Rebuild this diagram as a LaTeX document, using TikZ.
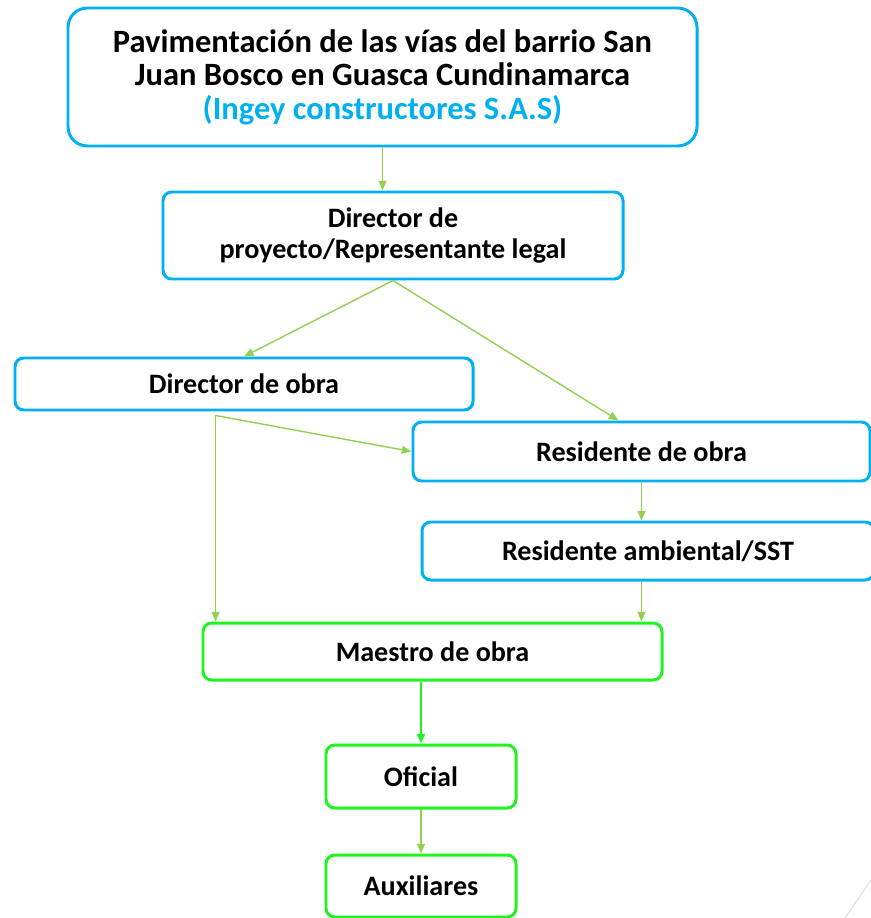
\documentclass[tikz,border=0pt]{standalone}
\usepackage{fontspec}
\setmainfont{Carlito}
\usepackage{xcolor}
\definecolor{boxcyan}{RGB}{0, 176, 240}
\definecolor{boxgreen}{RGB}{30, 245, 30}
\definecolor{linkgreen}{RGB}{146, 208, 80}
\usepackage{tikz}
\usetikzlibrary{
    arrows.meta,
    positioning,
    calc
}
\tikzstyle{titlebox} = [
    rectangle,
    rounded corners=11pt,
    draw=boxcyan,
    line width=1.7pt,
    align=center,
    font=\fontsize{18.5}{19}\selectfont\bfseries
]
\tikzstyle{rolebox} = [
    rectangle,
    rounded corners=5pt,
    draw=boxcyan,
    line width=1.7pt,
    align=center,
    font=\fontsize{16}{18}\selectfont\bfseries
]
\tikzstyle{crewbox} = [
    rectangle,
    rounded corners=5pt,
    draw=boxgreen,
    line width=1.7pt,
    align=center,
    font=\fontsize{16}{18}\selectfont\bfseries
]
\tikzstyle{arrow} = [
    -{Triangle[length=5.5pt,width=4.5pt]},
    draw=linkgreen,
    line width=0.8pt
]

\begin{document}
\begin{tikzpicture}
    \useasboundingbox (0,0) rectangle (17.42,-18.36);

    % Project title
    \node[titlebox, minimum width=12.58cm, minimum height=2.76cm] (title) at (7.65,-1.54)
        {Pavimentación de las vías del barrio San\\Juan Bosco en Guasca Cundinamarca\\\textcolor{boxcyan}{(Ingey constructores S.A.S)}};

    % Management
    \node[rolebox, minimum width=9.2cm, minimum height=1.74cm] (dirproj) at (7.86,-4.71)
        {Director de\\proyecto/Representante legal};
    \node[rolebox, minimum width=9.16cm, minimum height=1.04cm] (dirobra) at (4.88,-7.68) {Director de obra};
    \node[rolebox, minimum width=9.14cm, minimum height=1.18cm] (resobra) at (12.83,-9.03) {Residente de obra};
    \node[rolebox, minimum width=9.04cm, minimum height=1.16cm] (resamb) at (12.96,-11.02) {Residente ambiental/SST};

    % Field crew
    \node[crewbox, minimum width=9.18cm, minimum height=1.14cm] (maestro) at (8.65,-13.03) {Maestro de obra};
    \node[crewbox, minimum width=3.8cm, minimum height=1.26cm] (oficial) at (8.42,-15.53) {Oficial};
    \node[crewbox, minimum width=3.8cm, minimum height=1.24cm] (auxiliares) at (8.42,-17.72) {Auxiliares};

    % Branch point under Director de obra
    \coordinate (split) at ($(dirobra.south west)+(4.04,-0.08)$);

    % Arrows
    \draw[arrow] (title.south) -- (title.south |- dirproj.north);
    \draw[arrow] (dirproj.south) -- (dirobra.north);
    \draw[arrow] (dirproj.south) -- ($(resobra.north west)!0.45!(resobra.north east)$);
    \draw[arrow] (split) -- (resobra.west);
    \draw[arrow] (split) -- (split |- maestro.north);
    \draw[arrow] (resobra.south) -- (resobra.south |- resamb.north);
    \draw[arrow] (resobra.south |- resamb.south) -- (resobra.south |- maestro.north);
    \draw[arrow, draw=boxgreen, line width=1.3pt] (oficial.north |- maestro.south) -- (oficial.north);
    \draw[arrow] (oficial.south) -- (auxiliares.north);

    % Slide edge
    \draw[gray!25, line width=0.6pt] (17.42,-17.6) -- (16.9,-18.36);
\end{tikzpicture}
\end{document}
